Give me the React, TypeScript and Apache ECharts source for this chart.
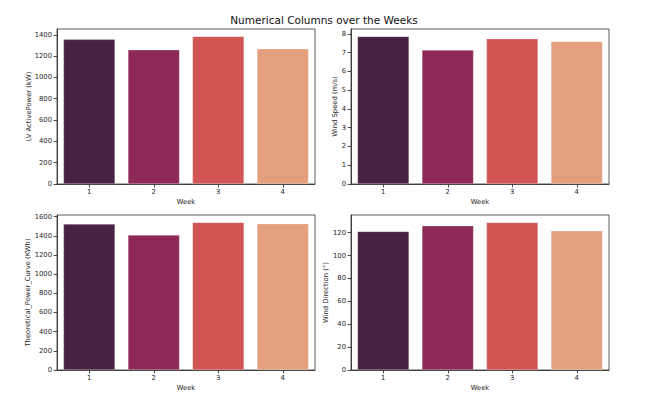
import React, { useEffect, useRef } from "react";
import * as echarts from "echarts";

const weeks = ["1", "2", "3", "4"];
const colors = ["#482242", "#8e2856", "#d25453", "#e4a07e"];

const activePower = [1357, 1259, 1385, 1269];
const windSpeed = [7.86, 7.13, 7.74, 7.59];
const theoreticalPower = [1523, 1408, 1540, 1527];
const windDirection = [121.1, 126.1, 129.0, 121.7];

const ticksActivePower = [0, 200, 400, 600, 800, 1000, 1200, 1400];
const ticksWindSpeed = [0, 1, 2, 3, 4, 5, 6, 7, 8];
const ticksTheoretical = [0, 200, 400, 600, 800, 1000, 1200, 1400, 1600];
const ticksDirection = [0, 20, 40, 60, 80, 100, 120];

const titleText = "Numerical Columns over the Weeks";
const xName = "Week";
const yNames = [
  "LV ActivePower (kW)",
  "Wind Speed (m/s)",
  "Theoretical_Power_Curve (KWh)",
  "Wind Direction (°)",
];

export default function App() {
  const ref = useRef<HTMLDivElement>(null);

  useEffect(() => {
    document.body.style.margin = "0";
    const chart = echarts.init(ref.current!, null, { renderer: "svg" });
    const font = "DejaVu Sans";
    const txt = "#262626";
    const W = 258;
    const H = 155;
    const panels = [
      { data: activePower, ticks: ticksActivePower, max: 1385 * 1.05, left: 57, top: 29, nameX: 29 },
      { data: windSpeed, ticks: ticksWindSpeed, max: 7.86 * 1.05, left: 351, top: 29, nameX: 335 },
      { data: theoreticalPower, ticks: ticksTheoretical, max: 1540 * 1.05, left: 57, top: 215, nameX: 28 },
      { data: windDirection, ticks: ticksDirection, max: 129.0 * 1.05, left: 351, top: 215, nameX: 326 },
    ];
    const grid = panels.map((p) => ({
      left: p.left,
      top: p.top,
      width: W,
      height: H,
      show: true,
      borderColor: "#333",
      borderWidth: 0.8,
      backgroundColor: "#fff",
    }));
    const xAxis = panels.map((p, i) => ({
      type: "category",
      gridIndex: i,
      data: weeks,
      axisLine: { show: true, lineStyle: { color: "#222", width: 0.8 } },
      axisTick: { show: true, alignWithLabel: true, length: 3.5, lineStyle: { color: "#222", width: 0.8 } },
      axisLabel: { fontFamily: font, fontSize: 6.8, color: txt, margin: 4 },
      splitLine: { show: false },
    }));
    const yAxis = panels.map((p, i) => ({
      type: "value",
      gridIndex: i,
      min: 0,
      max: p.max,
      axisLine: { show: true, lineStyle: { color: "#222", width: 0.8 } },
      axisTick: { show: true, length: 3.5, customValues: p.ticks, lineStyle: { color: "#222", width: 0.8 } },
      axisLabel: {
        fontFamily: font,
        fontSize: 6.8,
        color: txt,
        margin: 5,
        customValues: p.ticks,
        formatter: (v: number) => String(v),
      },
      splitLine: { show: false },
    }));
    const series = panels.map((p, i) => ({
      type: "bar",
      xAxisIndex: i,
      yAxisIndex: i,
      barCategoryGap: "20%",
      data: p.data.map((v, j) => ({ value: v, itemStyle: { color: colors[j] } })),
      itemStyle: { borderColor: "rgba(255,255,255,0.5)", borderWidth: 0.5 },
    }));
    const graphic: any[] = [];
    panels.forEach((p, i) => {
      graphic.push({
        type: "text",
        x: p.left + W / 2,
        y: p.top + H + 18,
        style: {
          text: xName,
          fill: txt,
          font: `6.8px "${font}"`,
          textAlign: "center",
          textVerticalAlign: "middle",
        },
      });
      graphic.push({
        type: "text",
        x: p.nameX,
        y: p.top + H / 2,
        rotation: Math.PI / 2,
        style: {
          text: yNames[i],
          fill: txt,
          font: `6.8px "${font}"`,
          textAlign: "center",
          textVerticalAlign: "middle",
        },
      });
    });
    chart.setOption({
      animation: false,
      backgroundColor: "#fff",
      textStyle: { fontFamily: font, color: txt },
      title: {
        text: titleText,
        left: "center",
        top: 9,
        textStyle: { fontFamily: font, fontSize: 10.5, fontWeight: "normal", color: "#111" },
      },
      grid,
      xAxis,
      yAxis,
      series,
      graphic,
    });
    return () => chart.dispose();
  }, []);

  return <div ref={ref} style={{ position: "absolute", left: 0, top: 0, width: 648, height: 404 }} />;
}
